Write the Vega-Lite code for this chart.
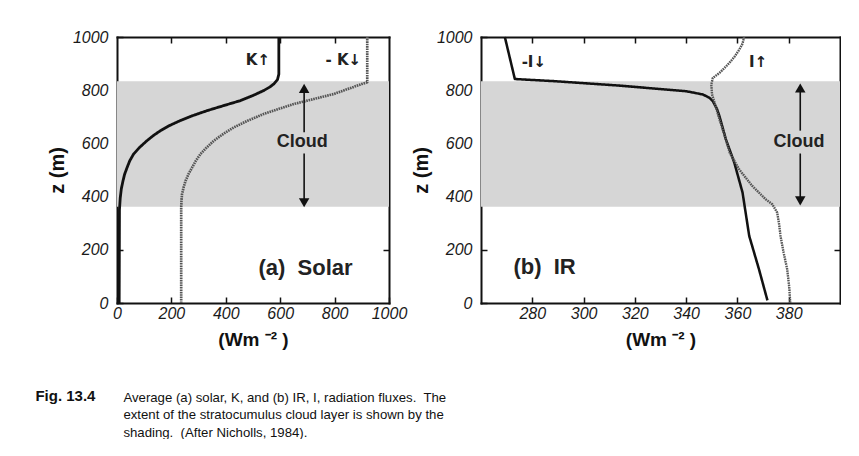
{
  "$schema": "https://vega.github.io/schema/vega-lite/v6.json",
  "background": "white",
  "padding": {"left": 35, "top": 29, "right": 0, "bottom": 0},
  "title": {
    "text": "Fig. 13.4",
    "orient": "bottom", "anchor": "start", "frame": "bounds",
    "dx": -12, "offset": -50,
    "font": "Liberation Sans", "fontSize": 15, "fontWeight": "bold", "color": "#111"
  },
  "config": {
    "view": {"stroke": null},
    "font": "Liberation Sans",
    "axis": {
      "domain": true, "domainColor": "#111", "domainWidth": 2, "domainCap": "square",
      "grid": false,
      "ticks": true, "tickSize": -6, "tickWidth": 1.5, "tickColor": "#111",
      "labelFont": "Liberation Sans", "labelFontSize": 16, "labelFontStyle": "italic",
      "labelFontWeight": "normal", "labelColor": "#1a1a1a",
      "labelFlush": false, "labelOverlap": false, "labelBound": false,
      "format": "d",
      "titleFont": "Liberation Sans", "titleFontSize": 19, "titleFontWeight": "bold", "titleColor": "#111",
      "zindex": 1
    },
    "axisX": {"labelPadding": 8, "labelDx": -3, "titlePadding": 9},
    "axisY": {"labelPadding": 15, "titlePadding": 5, "titleFontSize": 20}
  },
  "vconcat": [
    {
      "title": {
        "text": [
          "Average (a) solar, K, and (b) IR, I, radiation fluxes.\u00a0 The",
          "extent of the stratocumulus cloud layer is shown by the",
          "shading.\u00a0 (After Nicholls, 1984)."
        ],
        "orient": "bottom", "anchor": "start", "frame": "bounds",
        "dx": 76, "offset": 43,
        "font": "Liberation Sans", "fontSize": 13.2, "fontWeight": "normal",
        "lineHeight": 17.4, "color": "#111"
      },
      "spacing": 4,
      "hconcat": [
        {
          "width": 272,
          "height": 266,
          "resolve": {"axis": {"x": "independent", "y": "independent"}},
          "layer": [
            {
              "data": {"values": [{"base": 362, "top": 834}]},
              "mark": {"type": "rect", "color": "#d6d6d6"},
              "encoding": {
                "y": {"field": "base", "type": "quantitative", "scale": {"domain": [0, 1000], "nice": false}, "axis": null},
                "y2": {"field": "top"}
              }
            },
            {
              "data": {"values": [
                {"s": "K\u2191", "z": 1000, "flux": 595}, {"s": "K\u2191", "z": 860, "flux": 595},
                {"s": "K\u2191", "z": 840, "flux": 590}, {"s": "K\u2191", "z": 824, "flux": 577},
                {"s": "K\u2191", "z": 812, "flux": 562}, {"s": "K\u2191", "z": 799, "flux": 540},
                {"s": "K\u2191", "z": 780, "flux": 500}, {"s": "K\u2191", "z": 761, "flux": 454},
                {"s": "K\u2191", "z": 742, "flux": 392}, {"s": "K\u2191", "z": 723, "flux": 331},
                {"s": "K\u2191", "z": 705, "flux": 280}, {"s": "K\u2191", "z": 686, "flux": 233},
                {"s": "K\u2191", "z": 667, "flux": 193}, {"s": "K\u2191", "z": 648, "flux": 160},
                {"s": "K\u2191", "z": 629, "flux": 133}, {"s": "K\u2191", "z": 610, "flux": 110},
                {"s": "K\u2191", "z": 585, "flux": 83}, {"s": "K\u2191", "z": 560, "flux": 61},
                {"s": "K\u2191", "z": 535, "flux": 47}, {"s": "K\u2191", "z": 509, "flux": 37},
                {"s": "K\u2191", "z": 484, "flux": 28}, {"s": "K\u2191", "z": 459, "flux": 22},
                {"s": "K\u2191", "z": 430, "flux": 16}, {"s": "K\u2191", "z": 396, "flux": 12},
                {"s": "K\u2191", "z": 350, "flux": 9}, {"s": "K\u2191", "z": 0, "flux": 8},
                {"s": "-K\u2193", "z": 1000, "flux": 920}, {"s": "-K\u2193", "z": 830, "flux": 920},
                {"s": "-K\u2193", "z": 824, "flux": 902}, {"s": "-K\u2193", "z": 805, "flux": 850},
                {"s": "-K\u2193", "z": 786, "flux": 798}, {"s": "-K\u2193", "z": 767, "flux": 724},
                {"s": "-K\u2193", "z": 748, "flux": 650}, {"s": "-K\u2193", "z": 730, "flux": 595},
                {"s": "-K\u2193", "z": 711, "flux": 540}, {"s": "-K\u2193", "z": 685, "flux": 480},
                {"s": "-K\u2193", "z": 660, "flux": 429}, {"s": "-K\u2193", "z": 635, "flux": 390},
                {"s": "-K\u2193", "z": 610, "flux": 356}, {"s": "-K\u2193", "z": 585, "flux": 330},
                {"s": "-K\u2193", "z": 560, "flux": 307}, {"s": "-K\u2193", "z": 535, "flux": 290},
                {"s": "-K\u2193", "z": 509, "flux": 276}, {"s": "-K\u2193", "z": 485, "flux": 263},
                {"s": "-K\u2193", "z": 459, "flux": 252}, {"s": "-K\u2193", "z": 435, "flux": 245},
                {"s": "-K\u2193", "z": 409, "flux": 239}, {"s": "-K\u2193", "z": 385, "flux": 237},
                {"s": "-K\u2193", "z": 358, "flux": 236}, {"s": "-K\u2193", "z": 0, "flux": 236}
              ]},
              "mark": {"type": "line", "strokeJoin": "round"},
              "encoding": {
                "x": {"field": "flux", "type": "quantitative", "scale": {"domain": [0, 1000], "nice": false},
                      "axis": {"orient": "bottom", "values": [0, 200, 400, 600, 800, 1000], "title": "(Wm\u00a0\u207b\u00b2\u00a0)"}},
                "y": {"field": "z", "type": "quantitative", "scale": {"domain": [0, 1000], "nice": false},
                      "axis": {"orient": "left", "values": [0, 200, 400, 600, 800, 1000], "title": "z (m)"}},
                "order": {"field": "z", "type": "quantitative"},
                "color": {"field": "s", "type": "nominal", "scale": {"domain": ["K\u2191", "-K\u2193"], "range": ["#111111", "#555555"]}, "legend": null},
                "strokeWidth": {"field": "s", "type": "nominal", "scale": {"domain": ["K\u2191", "-K\u2193"], "range": [2.8, 2.4]}, "legend": null},
                "strokeDash": {"field": "s", "type": "nominal", "scale": {"domain": ["K\u2191", "-K\u2193"], "range": [[1, 0], [1.6, 0.8]]}, "legend": null}
              }
            },
            {
              "data": {"values": [{"flux": 688, "za": 800, "zb": 642}, {"flux": 688, "za": 562, "zb": 385}]},
              "mark": {"type": "rule", "color": "#111", "strokeWidth": 1.6},
              "encoding": {
                "x": {"field": "flux", "type": "quantitative", "scale": {"domain": [0, 1000], "nice": false}, "axis": null},
                "y": {"field": "za", "type": "quantitative", "scale": {"domain": [0, 1000], "nice": false}, "axis": null},
                "y2": {"field": "zb"}
              }
            },
            {
              "data": {"values": [{"flux": 688, "z": 807, "dir": "up"}, {"flux": 688, "z": 377, "dir": "down"}]},
              "mark": {"type": "point", "filled": true, "size": 110, "color": "#111", "opacity": 1},
              "encoding": {
                "x": {"field": "flux", "type": "quantitative", "scale": {"domain": [0, 1000], "nice": false}, "axis": null},
                "y": {"field": "z", "type": "quantitative", "scale": {"domain": [0, 1000], "nice": false}, "axis": null},
                "shape": {"field": "dir", "type": "nominal", "scale": {"domain": ["up", "down"], "range": ["triangle-up", "triangle-down"]}, "legend": null}
              }
            },
            {
              "data": {"values": [
                {"t": "K\u2191", "flux": 518, "z": 912},
                {"t": "- K\u2193", "flux": 832, "z": 912}
              ]},
              "mark": {"type": "text", "font": "DejaVu Sans", "fontSize": 15, "fontWeight": "bold", "color": "#222", "align": "center", "baseline": "middle"},
              "encoding": {
                "x": {"field": "flux", "type": "quantitative", "scale": {"domain": [0, 1000], "nice": false},
                      "axis": {"orient": "top", "values": [200, 400, 600, 800], "labels": false, "title": null}},
                "y": {"field": "z", "type": "quantitative", "scale": {"domain": [0, 1000], "nice": false},
                      "axis": {"orient": "right", "values": [200, 400, 600, 800], "labels": false, "title": null}},
                "text": {"field": "t"}
              }
            },
            {
              "data": {"values": [
                {"t": "Cloud", "flux": 681, "z": 604, "size": "small"},
                {"t": "(a)\u00a0 Solar", "flux": 693, "z": 132, "size": "large"}
              ]},
              "mark": {"type": "text", "font": "Liberation Sans", "fontWeight": "bold", "color": "#222", "align": "center", "baseline": "middle"},
              "encoding": {
                "x": {"field": "flux", "type": "quantitative", "scale": {"domain": [0, 1000], "nice": false}, "axis": null},
                "y": {"field": "z", "type": "quantitative", "scale": {"domain": [0, 1000], "nice": false}, "axis": null},
                "size": {"field": "size", "type": "nominal", "scale": {"domain": ["small", "large"], "range": [18, 22]}, "legend": null},
                "text": {"field": "t"}
              }
            }
          ]
        },
        {
          "width": 359,
          "height": 266,
          "resolve": {"axis": {"x": "independent", "y": "independent"}},
          "layer": [
            {
              "data": {"values": [{"base": 362, "top": 834}]},
              "mark": {"type": "rect", "color": "#d6d6d6"},
              "encoding": {
                "y": {"field": "base", "type": "quantitative", "scale": {"domain": [0, 1000], "nice": false}, "axis": null},
                "y2": {"field": "top"}
              }
            },
            {
              "data": {"values": [
                {"s": "-I\u2193", "z": 1000, "flux": 269.3}, {"s": "-I\u2193", "z": 842, "flux": 273.2},
                {"s": "-I\u2193", "z": 834, "flux": 288.6}, {"s": "-I\u2193", "z": 817, "flux": 314.4},
                {"s": "-I\u2193", "z": 796, "flux": 340.1}, {"s": "-I\u2193", "z": 784, "flux": 346.5},
                {"s": "-I\u2193", "z": 772, "flux": 349.0}, {"s": "-I\u2193", "z": 759, "flux": 350.4},
                {"s": "-I\u2193", "z": 730, "flux": 352.0}, {"s": "-I\u2193", "z": 702, "flux": 353.0},
                {"s": "-I\u2193", "z": 615, "flux": 355.5}, {"s": "-I\u2193", "z": 527, "flux": 358.8},
                {"s": "-I\u2193", "z": 415, "flux": 362.0}, {"s": "-I\u2193", "z": 252, "flux": 364.6},
                {"s": "-I\u2193", "z": 127, "flux": 368.4}, {"s": "-I\u2193", "z": 10, "flux": 371.7},
                {"s": "I\u2191", "z": 1000, "flux": 362.6}, {"s": "I\u2191", "z": 975, "flux": 362.0},
                {"s": "I\u2191", "z": 952, "flux": 360.7}, {"s": "I\u2191", "z": 925, "flux": 358.8},
                {"s": "I\u2191", "z": 902, "flux": 356.8}, {"s": "I\u2191", "z": 882, "flux": 354.8},
                {"s": "I\u2191", "z": 865, "flux": 353.0}, {"s": "I\u2191", "z": 846, "flux": 350.4},
                {"s": "I\u2191", "z": 821, "flux": 349.8}, {"s": "I\u2191", "z": 784, "flux": 350.1},
                {"s": "I\u2191", "z": 740, "flux": 351.5}, {"s": "I\u2191", "z": 690, "flux": 353.0},
                {"s": "I\u2191", "z": 630, "flux": 355.0}, {"s": "I\u2191", "z": 565, "flux": 357.0},
                {"s": "I\u2191", "z": 502, "flux": 360.7}, {"s": "I\u2191", "z": 440, "flux": 365.8},
                {"s": "I\u2191", "z": 390, "flux": 371.0}, {"s": "I\u2191", "z": 371, "flux": 373.6},
                {"s": "I\u2191", "z": 340, "flux": 375.5}, {"s": "I\u2191", "z": 300, "flux": 376.2},
                {"s": "I\u2191", "z": 252, "flux": 376.8}, {"s": "I\u2191", "z": 190, "flux": 378.0},
                {"s": "I\u2191", "z": 127, "flux": 379.4}, {"s": "I\u2191", "z": 60, "flux": 380.2},
                {"s": "I\u2191", "z": 0, "flux": 380.6}
              ]},
              "mark": {"type": "line", "strokeJoin": "round"},
              "encoding": {
                "x": {"field": "flux", "type": "quantitative", "scale": {"domain": [260, 400], "nice": false},
                      "axis": {"orient": "bottom", "values": [280, 300, 320, 340, 360, 380], "title": "(Wm\u00a0\u207b\u00b2\u00a0)"}},
                "y": {"field": "z", "type": "quantitative", "scale": {"domain": [0, 1000], "nice": false},
                      "axis": {"orient": "left", "values": [0, 200, 400, 600, 800, 1000], "title": "z (m)"}},
                "order": {"field": "z", "type": "quantitative"},
                "color": {"field": "s", "type": "nominal", "scale": {"domain": ["-I\u2193", "I\u2191"], "range": ["#111111", "#555555"]}, "legend": null},
                "strokeWidth": {"field": "s", "type": "nominal", "scale": {"domain": ["-I\u2193", "I\u2191"], "range": [2.8, 2.4]}, "legend": null},
                "strokeDash": {"field": "s", "type": "nominal", "scale": {"domain": ["-I\u2193", "I\u2191"], "range": [[1, 0], [1.6, 0.8]]}, "legend": null}
              }
            },
            {
              "data": {"values": [{"flux": 384.5, "za": 800, "zb": 648}, {"flux": 384.5, "za": 562, "zb": 392}]},
              "mark": {"type": "rule", "color": "#111", "strokeWidth": 1.6},
              "encoding": {
                "x": {"field": "flux", "type": "quantitative", "scale": {"domain": [260, 400], "nice": false}, "axis": null},
                "y": {"field": "za", "type": "quantitative", "scale": {"domain": [0, 1000], "nice": false}, "axis": null},
                "y2": {"field": "zb"}
              }
            },
            {
              "data": {"values": [{"flux": 384.5, "z": 808, "dir": "up"}, {"flux": 384.5, "z": 384, "dir": "down"}]},
              "mark": {"type": "point", "filled": true, "size": 110, "color": "#111", "opacity": 1},
              "encoding": {
                "x": {"field": "flux", "type": "quantitative", "scale": {"domain": [260, 400], "nice": false}, "axis": null},
                "y": {"field": "z", "type": "quantitative", "scale": {"domain": [0, 1000], "nice": false}, "axis": null},
                "shape": {"field": "dir", "type": "nominal", "scale": {"domain": ["up", "down"], "range": ["triangle-up", "triangle-down"]}, "legend": null}
              }
            },
            {
              "data": {"values": [
                {"t": "-I\u2193", "flux": 280.6, "z": 905},
                {"t": "I\u2191", "flux": 368.1, "z": 907}
              ]},
              "mark": {"type": "text", "font": "DejaVu Sans", "fontSize": 15, "fontWeight": "bold", "color": "#222", "align": "center", "baseline": "middle"},
              "encoding": {
                "x": {"field": "flux", "type": "quantitative", "scale": {"domain": [260, 400], "nice": false},
                      "axis": {"orient": "top", "values": [280, 300, 320, 340, 360, 380], "labels": false, "title": null}},
                "y": {"field": "z", "type": "quantitative", "scale": {"domain": [0, 1000], "nice": false},
                      "axis": {"orient": "right", "values": [200, 400, 600, 800], "labels": false, "title": null}},
                "text": {"field": "t"}
              }
            },
            {
              "data": {"values": [
                {"t": "Cloud", "flux": 384.0, "z": 605, "size": "small"},
                {"t": "(b)\u00a0 IR", "flux": 284.8, "z": 134, "size": "large"}
              ]},
              "mark": {"type": "text", "font": "Liberation Sans", "fontWeight": "bold", "color": "#222", "align": "center", "baseline": "middle"},
              "encoding": {
                "x": {"field": "flux", "type": "quantitative", "scale": {"domain": [260, 400], "nice": false}, "axis": null},
                "y": {"field": "z", "type": "quantitative", "scale": {"domain": [0, 1000], "nice": false}, "axis": null},
                "size": {"field": "size", "type": "nominal", "scale": {"domain": ["small", "large"], "range": [18, 22]}, "legend": null},
                "text": {"field": "t"}
              }
            }
          ]
        }
      ]
    }
  ]
}
